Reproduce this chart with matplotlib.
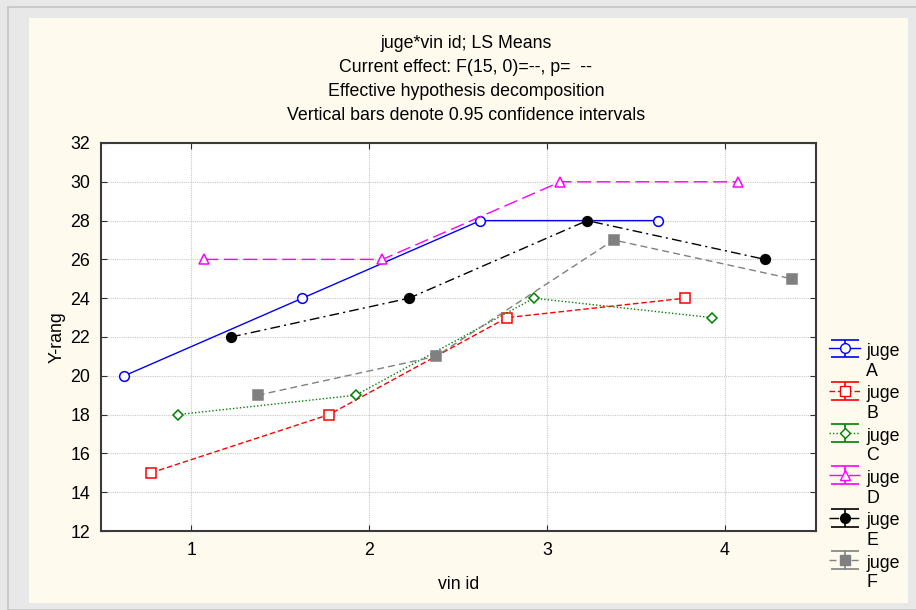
import numpy as np
import matplotlib
matplotlib.use("Agg")
import matplotlib.pyplot as plt
from matplotlib.patches import Rectangle
from matplotlib.legend_handler import HandlerErrorbar

plt.rcParams["font.family"] = ["Liberation Sans", "DejaVu Sans"]

# data
vin_id = [1, 2, 3, 4]
juges = ["A", "B", "C", "D", "E", "F"]
means_A = [20, 24, 28, 28]
means_B = [15, 18, 23, 24]
means_C = [18, 19, 24, 23]
means_D = [26, 26, 30, 30]
means_E = [22, 24, 28, 26]
means_F = [19, 21, 27, 25]
offsets = [-0.375, -0.225, -0.075, 0.075, 0.225, 0.375]

series = [means_A, means_B, means_C, means_D, means_E, means_F]
styles = [
    dict(color="#0000ff", marker="o", mfc="white", ls="-"),
    dict(color="#ff0000", marker="s", mfc="white", ls=(0, (4, 2))),
    dict(color="#008000", marker="D", mfc="white", ls=(0, (1, 1.5)), ms=5.5),
    dict(color="#ff00ff", marker="^", mfc="white", ls=(0, (10, 4))),
    dict(color="#000000", marker="o", mfc="#000000", ls=(0, (7, 3, 1.5, 3))),
    dict(color="#808080", marker="s", mfc="#808080", ls=(0, (5, 3))),
]

FS = 12.8


class RaisedErrorbar(HandlerErrorbar):
    # put the legend symbol on the "juge" line instead of between the two lines
    def create_artists(self, legend, orig_handle, xdescent, ydescent, width,
                       height, fontsize, trans):
        return super().create_artists(legend, orig_handle, xdescent,
                                      ydescent - 19, width, height, fontsize, trans)


fig = plt.figure(figsize=(9.16, 6.10), dpi=100, facecolor="#e8e8e8")
fig.patches.append(Rectangle((8 / 916, 0), 1, 1 - 7 / 610, transform=fig.transFigure,
                             facecolor="#e8e8e8", edgecolor="#c4c4c4", lw=1.2, zorder=-2))
fig.patches.append(Rectangle((29 / 916, 1 - 603 / 610), (908 - 29) / 916, (603 - 18) / 610,
                             transform=fig.transFigure, facecolor="#fefaee",
                             edgecolor="none", zorder=-1))

ax = fig.add_axes([101 / 916, 1 - 531 / 610, 715 / 916, 388 / 610])
ax.set_facecolor("white")

handles = []
for name, vals, off, st in zip(juges, series, offsets, styles):
    xs = np.array(vin_id) + off
    ms = st.pop("ms", 7)
    ax.plot(xs, vals, lw=1, ms=ms, mew=1.1, mec=st["color"], zorder=3, **st)
    h = ax.errorbar([np.nan], [np.nan], yerr=[1], color=st["color"], ls=st["ls"],
                    marker=st["marker"], mfc=st["mfc"], mec=st["color"], ms=ms,
                    lw=1, capsize=10, elinewidth=1.2, capthick=1.2)
    handles.append(h)

ax.set_xlim(0.494, 4.511)
ax.set_ylim(12, 32)
ax.set_xticks(vin_id)
ax.set_yticks(np.arange(12, 33, 2))
ax.grid(True, color="#c8c8c8", ls=(0, (1, 1)), lw=0.8, zorder=0)
ax.tick_params(direction="in", top=True, right=True, length=4, labelsize=FS,
               color="#303030", pad=8)
for sp in ax.spines.values():
    sp.set_color("#3a3a3a")
    sp.set_linewidth(1.5)

ax.set_xlabel("vin id", fontsize=FS, labelpad=12)
ax.set_ylabel("Y-rang", fontsize=FS, labelpad=3)

titles = ["juge*vin id; LS Means",
          "Current effect: F(15, 0)=--, p=  --",
          "Effective hypothesis decomposition",
          "Vertical bars denote 0.95 confidence intervals"]
for i, t in enumerate(titles):
    fig.text(0.5085, 1 - (43 + 24 * i) / 610, t, ha="center", va="center", fontsize=FS)

leg = fig.legend(handles, ["juge\n" + j for j in juges], loc="upper left",
                 bbox_to_anchor=(822 / 916, 1 - 336 / 610), frameon=False,
                 fontsize=FS, handlelength=1.75, handletextpad=0.35,
                 labelspacing=0.32, borderaxespad=0,
                 handler_map={type(handles[0]): RaisedErrorbar()})

fig.savefig("out.png", dpi=100, facecolor=fig.get_facecolor())
